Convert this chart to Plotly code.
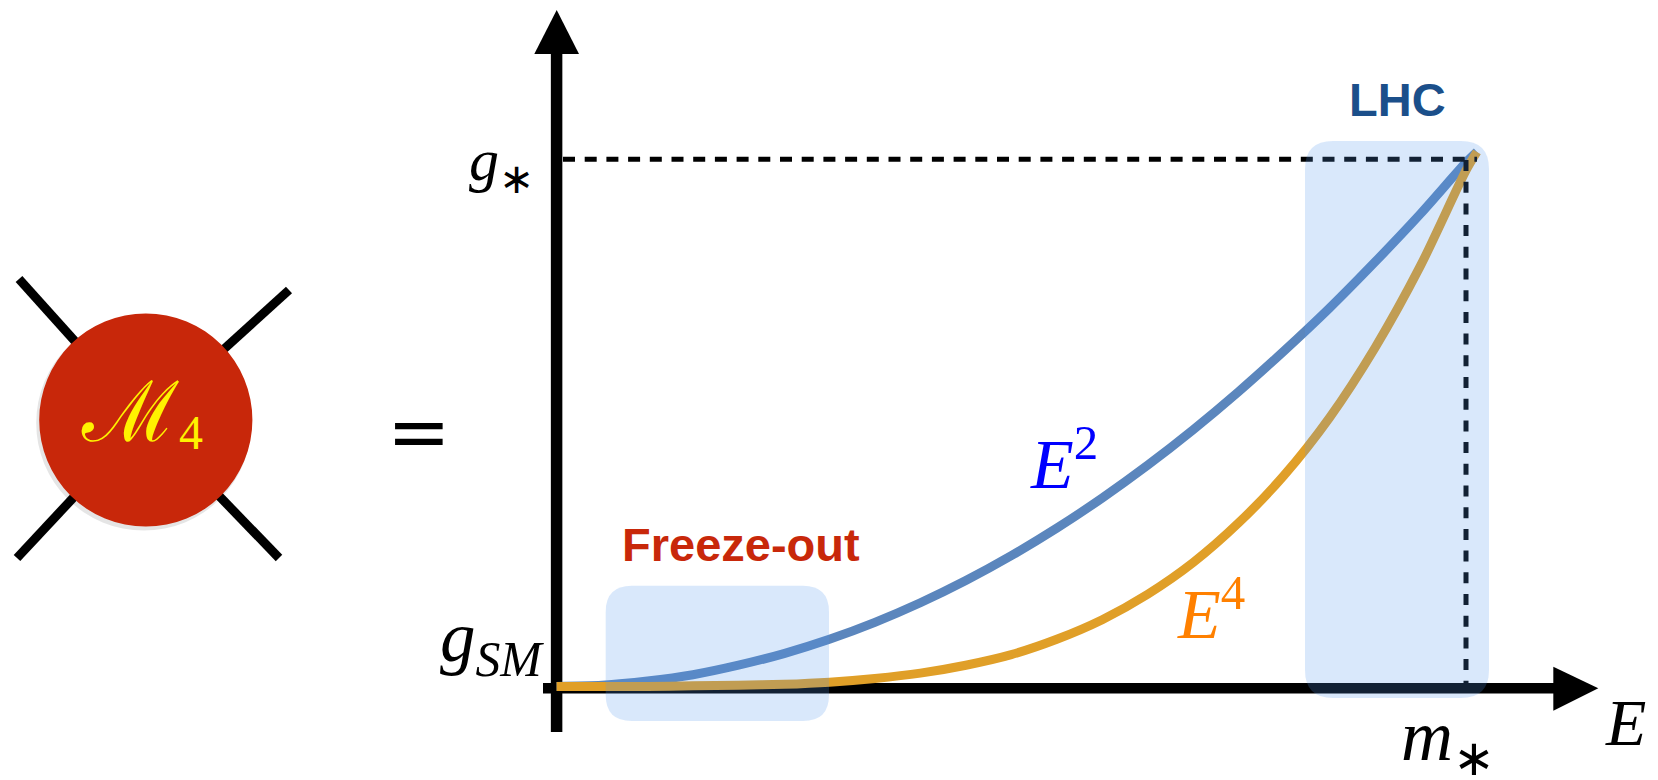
import plotly.graph_objects as go

# ---------------- data ----------------
# E in units of m_*, g in units where g_SM = 0 and g_* = 1
energy = [0.0, 0.05, 0.10, 0.15, 0.20, 0.25, 0.30, 0.35, 0.40, 0.45, 0.50,
          0.55, 0.60, 0.65, 0.70, 0.75, 0.80, 0.85, 0.90, 0.95, 1.00, 1.012]
coupling_E2 = [0.004, 0.006, 0.014, 0.026, 0.044, 0.066, 0.093, 0.125, 0.162, 0.204, 0.251,
               0.303, 0.360, 0.422, 0.489, 0.561, 0.638, 0.719, 0.806, 0.897, 0.994, 1.014]
coupling_E4 = [0.004, 0.004, 0.004, 0.005, 0.006, 0.008, 0.012, 0.019, 0.029, 0.044, 0.064,
               0.093, 0.130, 0.178, 0.238, 0.313, 0.403, 0.512, 0.644, 0.799, 0.979, 1.014]

series_names = ["E^2", "E^4"]
axis_labels = {"g_star": "<i>g</i><sub>∗</sub>", "g_SM": "<i>g</i><sub><i>SM</i></sub>",
               "m_star": "<i>m</i><sub>∗</sub>", "E": "<i>E</i>"}
region_labels = ["Freeze-out", "LHC"]

# ---------------- layout geometry ----------------
W, H = 1658, 780
X_AXIS_PX, M_STAR_PX = 556.6, 1466.0   # pixel x of E=0 and E=m_*
G_SM_PX, G_STAR_PX = 688.5, 159.3      # pixel y of g=g_SM and g=g_*
sx = M_STAR_PX - X_AXIS_PX
sy = G_SM_PX - G_STAR_PX
xrange_ = [-X_AXIS_PX / sx, (W - X_AXIS_PX) / sx]
yrange_ = [(G_SM_PX - H) / sy, G_SM_PX / sy]


def PX(x):
    return x / W


def PY(y):
    return 1 - y / H


def path(points, close=True):
    s = "M " + " L ".join(f"{PX(x):.6f},{PY(y):.6f}" for x, y in points)
    return s + (" Z" if close else "")


def rounded_rect(x0, y0, x1, y1, r):
    def p(x, y):
        return f"{PX(x):.6f},{PY(y):.6f}"
    return (f"M {p(x0 + r, y0)} L {p(x1 - r, y0)} Q {p(x1, y0)} {p(x1, y0 + r)} "
            f"L {p(x1, y1 - r)} Q {p(x1, y1)} {p(x1 - r, y1)} "
            f"L {p(x0 + r, y1)} Q {p(x0, y1)} {p(x0, y1 - r)} "
            f"L {p(x0, y0 + r)} Q {p(x0, y0)} {p(x0 + r, y0)} Z")


fig = go.Figure()

fig.add_trace(go.Scatter(x=energy, y=coupling_E2, mode="lines", name=series_names[0],
                         line=dict(color="#5b86bd", width=9, shape="spline", smoothing=0.8),
                         hoverinfo="skip"))
fig.add_trace(go.Scatter(x=energy, y=coupling_E4, mode="lines", name=series_names[1],
                         line=dict(color="#e09f28", width=9, shape="spline", smoothing=0.8),
                         hoverinfo="skip"))

shapes = []
# axes (below the curves)
shapes.append(dict(type="line", xref="paper", yref="paper", layer="below",
                   x0=PX(X_AXIS_PX), x1=PX(X_AXIS_PX), y0=PY(732), y1=PY(50),
                   line=dict(color="black", width=11.5)))
shapes.append(dict(type="path", xref="paper", yref="paper", layer="below",
                   path=path([(534.3, 54), (579, 54), (556.7, 10)]),
                   fillcolor="black", line=dict(width=0)))
shapes.append(dict(type="line", xref="paper", yref="paper", layer="below",
                   x0=PX(543), x1=PX(1556), y0=PY(688.2), y1=PY(688.2),
                   line=dict(color="black", width=10.6)))
shapes.append(dict(type="path", xref="paper", yref="paper", layer="below",
                   path=path([(1553.3, 666.7), (1553.3, 710.7), (1598.3, 688.3)]),
                   fillcolor="black", line=dict(width=0)))
# dashed guide lines
shapes.append(dict(type="line", xref="paper", yref="y", layer="above",
                   x0=PX(563), x1=PX(1477), y0=1, y1=1,
                   line=dict(color="black", width=5, dash="12px,9.7px")))
shapes.append(dict(type="line", xref="x", yref="paper", layer="above",
                   x0=1, x1=1, y0=PY(160), y1=PY(688),
                   line=dict(color="black", width=5, dash="11px,10.7px")))
# translucent regions
shapes.append(dict(type="path", xref="paper", yref="paper", layer="above",
                   path=rounded_rect(605.7, 585.7, 829, 721, 26),
                   fillcolor="rgba(80,150,235,0.22)", line=dict(width=0)))
shapes.append(dict(type="path", xref="paper", yref="paper", layer="above",
                   path=rounded_rect(1305, 141, 1489, 698, 28),
                   fillcolor="rgba(80,150,235,0.22)", line=dict(width=0)))

# left diagram: four legs, shadow, blob
cx, cy, r = 145.8, 420.0, 106.6
for ex, ey in [(19, 279), (289, 290), (17, 558), (279, 558)]:
    shapes.append(dict(type="line", xref="paper", yref="paper", layer="above",
                       x0=PX(ex), y0=PY(ey), x1=PX(cx), y1=PY(cy),
                       line=dict(color="black", width=9)))
shapes.append(dict(type="circle", xref="paper", yref="paper", layer="above",
                   x0=PX(cx - r - 3), x1=PX(cx + r - 1), y0=PY(cy - r + 2), y1=PY(cy + r + 4),
                   fillcolor="rgba(0,0,0,0.10)", line=dict(width=0)))
shapes.append(dict(type="circle", xref="paper", yref="paper", layer="above",
                   x0=PX(cx - r), x1=PX(cx + r), y0=PY(cy - r), y1=PY(cy + r),
                   fillcolor="#c8270a", line=dict(width=0)))

annotations = []


def ann(text, x, y, size, color="black", family="Liberation Serif", xanchor="left",
        yanchor="middle"):
    annotations.append(dict(text=text, x=PX(x), y=PY(y), xref="paper", yref="paper",
                            showarrow=False, xanchor=xanchor, yanchor=yanchor,
                            font=dict(family=family, size=size, color=color)))


ann("ℳ", 130, 412, 84, color="#fff200", family="DejaVu Serif", xanchor="center")
ann("4", 191, 432, 48, color="#fff200", family="Liberation Serif", xanchor="center")
ann("=", 419.5, 431, 76, family="DejaVu Sans", xanchor="center")
ann(axis_labels["g_star"], 536, 164, 60, xanchor="right")
ann(axis_labels["g_SM"], 546, 642, 71, xanchor="right")
ann(axis_labels["m_star"], 1399, 741, 72)
ann(axis_labels["E"], 1603, 722, 66)
ann("<i>E</i><sup>2</sup>", 1028, 459, 70, color="#0000ff")
ann("<i>E</i><sup>4</sup>", 1175, 609, 70, color="#ff8000")
ann("<b>" + region_labels[0] + "</b>", 740.5, 544.3, 47, color="#c8280a",
    family="Liberation Sans", xanchor="center")
ann("<b>" + region_labels[1] + "</b>", 1397.5, 99.2, 47, color="#1b4f8a",
    family="Liberation Sans", xanchor="center")

fig.update_layout(
    width=W, height=H,
    margin=dict(l=0, r=0, t=0, b=0),
    paper_bgcolor="white", plot_bgcolor="rgba(0,0,0,0)",
    showlegend=False,
    xaxis=dict(range=xrange_, visible=False, fixedrange=True),
    yaxis=dict(range=yrange_, visible=False, fixedrange=True),
    shapes=shapes, annotations=annotations,
)

fig.write_html("out.html", config={"displayModeBar": False},
               post_script="document.body.style.margin='0px';"
                           "document.body.style.overflow='hidden';")
